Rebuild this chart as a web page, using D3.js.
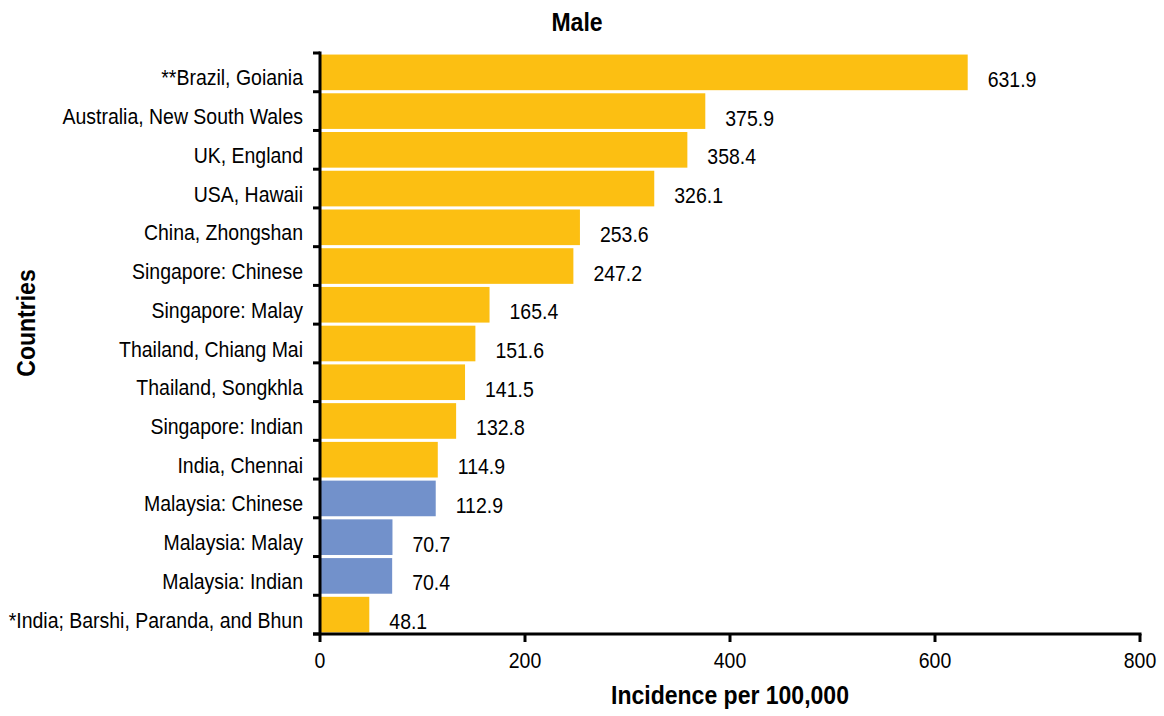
<!DOCTYPE html>
<html>
<head>
<meta charset="utf-8">
<script src="https://cdn.jsdelivr.net/npm/d3@7"></script>
<style>
  html, body { margin: 0; padding: 0; background: #fff; }
  svg { display: block; }
  text { font-family: "Liberation Sans", Arial, sans-serif; fill: #000; }
</style>
</head>
<body>
<svg id="chart" width="1164" height="716"></svg>
<script>
const categories = [
  "**Brazil, Goiania",
  "Australia, New South Wales",
  "UK, England",
  "USA, Hawaii",
  "China, Zhongshan",
  "Singapore: Chinese",
  "Singapore: Malay",
  "Thailand, Chiang Mai",
  "Thailand, Songkhla",
  "Singapore: Indian",
  "India, Chennai",
  "Malaysia: Chinese",
  "Malaysia: Malay",
  "Malaysia: Indian",
  "*India; Barshi, Paranda, and Bhun"
];
const values = [631.9, 375.9, 358.4, 326.1, 253.6, 247.2, 165.4, 151.6, 141.5, 132.8, 114.9, 112.9, 70.7, 70.4, 48.1];
const groups = ["Other", "Other", "Other", "Other", "Other", "Other", "Other", "Other", "Other", "Other", "Other", "Malaysia", "Malaysia", "Malaysia", "Other"];
const xTicks = [0, 200, 400, 600, 800];
const title = "Male";
const xTitle = "Incidence per 100,000";
const yTitle = "Countries";

const data = categories.map((c, i) => ({ cat: c, val: values[i], grp: groups[i] }));

const SX = 0.885; // condensed look
const svg = d3.select("#chart");
const x = d3.scaleLinear().domain([0, 800]).range([320, 1140]);
const y = d3.scaleBand().domain(categories).range([53, 634]).paddingInner(0.08).paddingOuter(0.04);
const color = d3.scaleOrdinal().domain(["Other", "Malaysia"]).range(["#FCBF12", "#7291CB"]);

// bars
svg.append("g").selectAll("rect").data(data).join("rect")
  .attr("x", x(0) + 1)
  .attr("y", d => y(d.cat))
  .attr("width", d => x(d.val) - x(0) - 1)
  .attr("height", y.bandwidth())
  .attr("fill", d => color(d.grp));

// value labels
svg.append("g").selectAll("text").data(data).join("text")
  .attr("transform", d => `translate(${x(d.val) + 20},${y(d.cat) + y.bandwidth() / 2 + 14.5}) scale(${SX},1)`)
  .attr("font-size", 22)
  .text(d => d.val.toFixed(1));

// category labels
svg.append("g").selectAll("text").data(data).join("text")
  .attr("transform", d => `translate(303,${y(d.cat) + y.bandwidth() / 2 + 13}) scale(${SX},1)`)
  .attr("text-anchor", "end")
  .attr("font-size", 22)
  .text(d => d.cat);

// y axis line + boundary ticks
const off = (y.step() - y.bandwidth()) / 2;
const bounds = categories.map(c => y(c) - off).concat([y(categories[categories.length - 1]) + y.bandwidth() + off]);
const ax = svg.append("g").attr("stroke", "#000").attr("stroke-width", 3);
ax.append("line").attr("x1", x(0)).attr("x2", x(0)).attr("y1", bounds[0] - 1.5).attr("y2", bounds[bounds.length - 1]);
ax.selectAll("line.yt").data(bounds).join("line").attr("class", "yt")
  .attr("x1", x(0) - 7).attr("x2", x(0)).attr("y1", d => d).attr("y2", d => d);

// x axis
const yAxisPos = bounds[bounds.length - 1];
ax.append("line").attr("x1", x(0) - 7).attr("x2", x(800) + 1.5).attr("y1", yAxisPos).attr("y2", yAxisPos);
ax.selectAll("line.xt").data(xTicks).join("line").attr("class", "xt")
  .attr("x1", d => x(d)).attr("x2", d => x(d)).attr("y1", yAxisPos).attr("y2", yAxisPos + 8);
svg.append("g").selectAll("text").data(xTicks).join("text")
  .attr("transform", d => `translate(${x(d)},668) scale(${SX},1)`)
  .attr("text-anchor", "middle")
  .attr("font-size", 22)
  .text(d => d);

// titles
svg.append("text").attr("transform", `translate(577,31) scale(${SX},1)`).attr("text-anchor", "middle")
  .attr("font-size", 26).attr("font-weight", "bold").text(title);
svg.append("text").attr("transform", `translate(${(x(0) + x(800)) / 2},704) scale(${SX},1)`).attr("text-anchor", "middle")
  .attr("font-size", 26).attr("font-weight", "bold").text(xTitle);
svg.append("text").attr("transform", `translate(35,323) rotate(-90) scale(${SX},1)`).attr("text-anchor", "middle")
  .attr("font-size", 26).attr("font-weight", "bold").text(yTitle);
</script>
</body>
</html>
